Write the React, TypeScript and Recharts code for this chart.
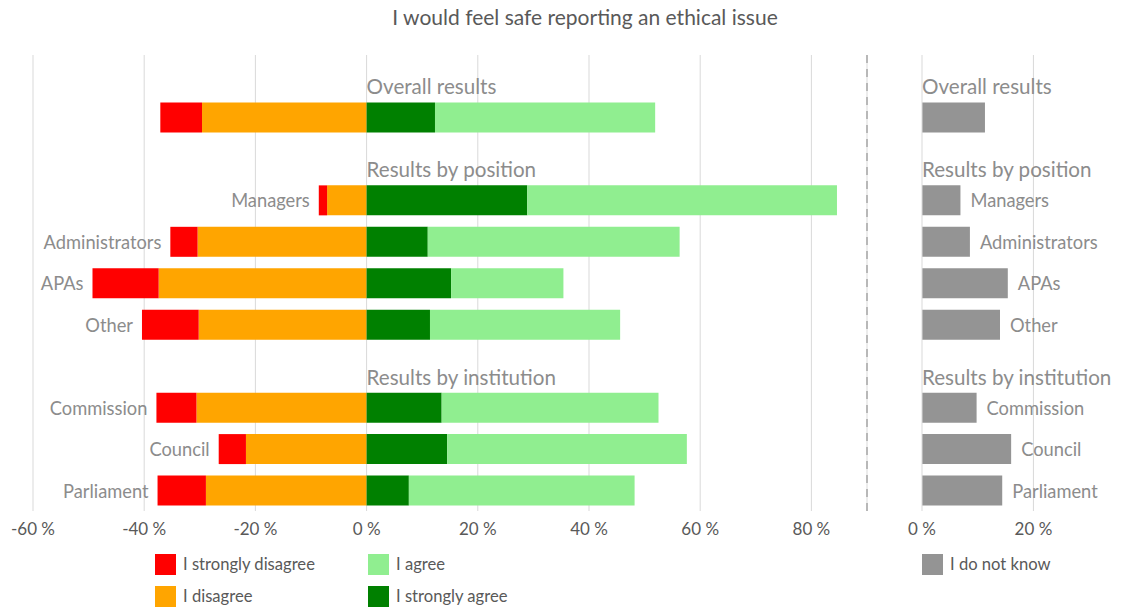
import React from 'react';
import {
  BarChart,
  Bar,
  XAxis,
  YAxis,
  CartesianGrid,
  ReferenceLine,
  LabelList,
} from 'recharts';

// rows from top to bottom; spacer rows hold the section headings gap
const rowKeys = ['gap1', 'overall', 'gap2', 'managers', 'administrators', 'apas', 'other', 'gap3', 'commission', 'council', 'parliament'];
const rowLabels = ['', '', '', 'Managers', 'Administrators', 'APAs', 'Other', '', 'Commission', 'Council', 'Parliament'];
const rowHeaders = ['', 'Overall results', '', 'Results by position', '', '', '', '', 'Results by institution', '', ''];

// percentages
const stronglyDisagree = [0, 7.5, 0, 1.5, 4.9, 11.9, 10.2, 0, 7.2, 4.9, 8.7];
const disagree = [0, 29.6, 0, 7.1, 30.4, 37.4, 30.2, 0, 30.6, 21.7, 28.9];
const stronglyAgree = [0, 12.3, 0, 28.9, 11.0, 15.2, 11.4, 0, 13.5, 14.5, 7.6];
const agree = [0, 39.6, 0, 55.7, 45.3, 20.2, 34.2, 0, 39.0, 43.1, 40.6];
const doNotKnow = [0, 11.3, 0, 6.9, 8.6, 15.4, 14.0, 0, 9.8, 16.0, 14.4];

const mainTicks = [-60, -40, -20, 0, 20, 40, 60, 80];
const sideTicks = [0, 20];

const COLORS = {
  stronglyDisagree: '#ff0000',
  disagree: '#ffa500',
  agree: '#90ee90',
  stronglyAgree: '#008000',
  doNotKnow: '#949494',
};

const FONT = 'Lato, "Open Sans", sans-serif';
const LABEL_GREY = '#8c8c8c';
const TEXT_GREY = '#595959';
const GRID = '#d9d9d9';

const data = rowKeys.map((key, i) => ({
  key,
  label: rowLabels[i],
  header: rowHeaders[i],
  stronglyDisagree: -stronglyDisagree[i],
  disagree: -disagree[i],
  stronglyAgree: stronglyAgree[i],
  agree: agree[i],
  doNotKnow: doNotKnow[i],
}));

const pct = (v: number) => `${v} %`;

// label left of the whole bar (main chart)
const leftLabel = (props: any) => {
  const { x, y, width, height, value } = props;
  if (!value) return null;
  const left = Math.min(x, x + width);
  return (
    <text x={left - 9} y={y + height / 2} textAnchor="end" dominantBaseline="central"
      fill={LABEL_GREY} fontSize={18.3} fontFamily={FONT}>
      {value}
    </text>
  );
};

// label right of the bar (side chart)
const rightLabel = (props: any) => {
  const { x, y, width, height, value } = props;
  if (!value) return null;
  return (
    <text x={x + width + 10} y={y + height / 2} textAnchor="start" dominantBaseline="central"
      fill={LABEL_GREY} fontSize={18.3} fontFamily={FONT}>
      {value}
    </text>
  );
};

// section heading above the bar, starting at the zero line
const headerLabel = (props: any) => {
  const { x, y, value } = props;
  if (!value) return null;
  return (
    <text x={x} y={y - 8} textAnchor="start" fill={LABEL_GREY} fontSize={20.6} fontFamily={FONT}>
      {value}
    </text>
  );
};

const LegendItem = ({ color, text, left, top }: { color: string; text: string; left: number; top: number }) => (
  <div style={{ position: 'absolute', left, top, display: 'flex', alignItems: 'center', height: 22 }}>
    <div style={{ width: 21, height: 21, background: color }} />
    <span style={{ marginLeft: 7, fontSize: 16.6, color: TEXT_GREY, fontFamily: FONT }}>{text}</span>
  </div>
);

export default function App() {
  const tickStyle = { fill: TEXT_GREY, fontSize: 17, fontFamily: FONT };

  return (
    <div style={{ position: 'absolute', left: 0, top: 0, width: 1124, height: 609, background: '#fff', fontFamily: FONT }}>
      <div style={{ position: 'absolute', left: 23, top: 4, width: 1124, textAlign: 'center', fontSize: 21, color: TEXT_GREY }}>
        I would feel safe reporting an ethical issue
      </div>

      <div style={{ position: 'absolute', left: 0, top: 0 }}>
        <BarChart width={880} height={560} data={data} layout="vertical" stackOffset="sign"
          margin={{ top: 55, right: 13, bottom: 14, left: 33 }}>
          <CartesianGrid horizontal={false} stroke={GRID} />
          <XAxis type="number" domain={[-60, 90]} ticks={mainTicks} tickFormatter={pct}
            axisLine={false} tickLine={false} tickMargin={6} height={35} tick={tickStyle} interval={0} />
          <YAxis type="category" dataKey="key" hide />
          <ReferenceLine x={90} stroke="#a6a6a6" strokeWidth={1.5} strokeDasharray="8 6" />
          <Bar dataKey="disagree" stackId="s" fill={COLORS.disagree} barSize={30} isAnimationActive={false} />
          <Bar dataKey="stronglyDisagree" stackId="s" fill={COLORS.stronglyDisagree} barSize={30} isAnimationActive={false}>
            <LabelList dataKey="label" content={leftLabel} />
          </Bar>
          <Bar dataKey="stronglyAgree" stackId="s" fill={COLORS.stronglyAgree} barSize={30} isAnimationActive={false}>
            <LabelList dataKey="header" content={headerLabel} />
          </Bar>
          <Bar dataKey="agree" stackId="s" fill={COLORS.agree} barSize={30} isAnimationActive={false} />
        </BarChart>
      </div>

      <div style={{ position: 'absolute', left: 880, top: 0 }}>
        <BarChart width={244} height={560} data={data} layout="vertical"
          margin={{ top: 55, right: 7, bottom: 14, left: 42 }}>
          {sideTicks.map((t) => (
            <ReferenceLine key={t} x={t} stroke={GRID} />
          ))}
          <XAxis type="number" domain={[0, 35]} ticks={sideTicks} tickFormatter={pct}
            axisLine={false} tickLine={false} tickMargin={6} height={35} tick={tickStyle} interval={0} />
          <YAxis type="category" dataKey="key" hide />
          <Bar dataKey="doNotKnow" fill={COLORS.doNotKnow} barSize={30} isAnimationActive={false}>
            <LabelList dataKey="label" content={rightLabel} />
            <LabelList dataKey="header" content={headerLabel} />
          </Bar>
        </BarChart>
      </div>

      <LegendItem color={COLORS.stronglyDisagree} text="I strongly disagree" left={155} top={553} />
      <LegendItem color={COLORS.disagree} text="I disagree" left={155} top={585} />
      <LegendItem color={COLORS.agree} text="I agree" left={368} top={553} />
      <LegendItem color={COLORS.stronglyAgree} text="I strongly agree" left={368} top={585} />
      <LegendItem color={COLORS.doNotKnow} text="I do not know" left={922} top={553} />
    </div>
  );
}
